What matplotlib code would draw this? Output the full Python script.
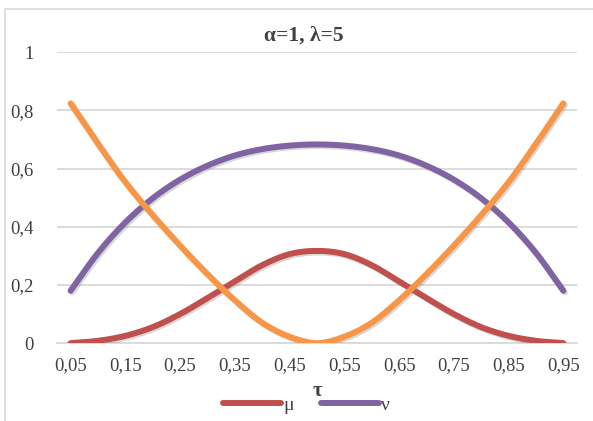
import matplotlib
matplotlib.use("Agg")
import matplotlib.pyplot as plt
import matplotlib.patheffects as pe
from matplotlib.lines import Line2D
import numpy as np

# tau categories
tau_labels = ["0,05", "0,1", "0,15", "0,2", "0,25", "0,3", "0,35", "0,4", "0,45", "0,5",
              "0,55", "0,6", "0,65", "0,7", "0,75", "0,8", "0,85", "0,9", "0,95"]

mu = [0.0, 0.008, 0.025, 0.055, 0.10, 0.155, 0.212, 0.268, 0.306, 0.317,
      0.306, 0.268, 0.212, 0.155, 0.10, 0.055, 0.025, 0.008, 0.0]
nu = [0.18, 0.31, 0.415, 0.498, 0.562, 0.61, 0.645, 0.667, 0.679, 0.683,
      0.679, 0.667, 0.645, 0.61, 0.562, 0.498, 0.415, 0.31, 0.18]
pi = [0.824, 0.685, 0.553, 0.44, 0.335, 0.237, 0.147, 0.07, 0.022, 0.0,
      0.022, 0.07, 0.147, 0.237, 0.335, 0.44, 0.553, 0.685, 0.824]

y_ticks = [0, 0.2, 0.4, 0.6, 0.8, 1.0]
y_tick_labels = ["0", "0,2", "0,4", "0,6", "0,8", "1"]

red = "#C0504D"
purple = "#8064A2"
orange = "#F79646"
grid_col = "#D9D9D9"
text_col = "#404040"


def smooth(xs, ys, n=12):
    # Catmull-Rom style smoothing, like Excel's "smoothed line"
    xs = np.asarray(xs, float)
    ys = np.asarray(ys, float)
    px = np.concatenate([[2 * xs[0] - xs[1]], xs, [2 * xs[-1] - xs[-2]]])
    py = np.concatenate([[2 * ys[0] - ys[1]], ys, [2 * ys[-1] - ys[-2]]])
    t = np.linspace(0, 1, n, endpoint=False)
    out_x, out_y = [], []
    for i in range(1, len(px) - 2):
        for p, o in ((px, out_x), (py, out_y)):
            p0, p1, p2, p3 = p[i - 1], p[i], p[i + 1], p[i + 2]
            o.extend(0.5 * (2 * p1 + (-p0 + p2) * t + (2 * p0 - 5 * p1 + 4 * p2 - p3) * t ** 2
                            + (-p0 + 3 * p1 - 3 * p2 + p3) * t ** 3))
    out_x.append(xs[-1])
    out_y.append(ys[-1])
    return out_x, out_y


plt.rcParams["font.family"] = ["Liberation Serif", "DejaVu Serif"]

fig = plt.figure(figsize=(5.93, 4.21), dpi=100)
ax = fig.add_axes([0.096, 0.185, 0.877, 0.691])

x = list(range(len(tau_labels)))
shadow = [pe.SimpleLineShadow(offset=(1.2, -1.2), shadow_color="gray", alpha=0.3), pe.Normal()]
for series, col, z in ((mu, red, 3), (nu, purple, 3), (pi, orange, 4)):
    sx, sy = smooth(x, series)
    ax.plot(sx, sy, color=col, lw=4.3, solid_capstyle="round", solid_joinstyle="round",
            path_effects=shadow, zorder=z)

ax.set_xlim(-0.5, len(tau_labels) - 0.5)
ax.set_ylim(0, 1)
ax.set_yticks(y_ticks)
ax.set_yticklabels(y_tick_labels)
ax.set_xticks(x[::2])
ax.set_xticklabels(tau_labels[::2])
ax.tick_params(length=0, labelsize=13.5, colors=text_col, pad=10)
ax.tick_params(axis="y", pad=17)
ax.yaxis.grid(True, color=grid_col, lw=1.3)
ax.set_axisbelow(True)
for s in ["top", "right", "left"]:
    ax.spines[s].set_visible(False)
ax.spines["bottom"].set_color(grid_col)
ax.spines["bottom"].set_linewidth(1.3)

ax.set_xlabel("τ", fontsize=15, fontweight="bold", color=text_col, labelpad=5)
fig.text(0.513, 0.916, "α=1, λ=5", ha="center", va="center", fontsize=15.5,
         fontweight="bold", color=text_col)

handles = [Line2D([], [], color=red, lw=4.3, solid_capstyle="round"),
           Line2D([], [], color=purple, lw=4.3, solid_capstyle="round")]
fig.legend(handles, ["μ", "ν"], loc="center", bbox_to_anchor=(0.517, 0.037), ncol=2,
           frameon=False, fontsize=14, handlelength=3.0, handletextpad=0.1,
           columnspacing=1.4, labelcolor=text_col)

# chart area border
fig.add_artist(Line2D([5 / 593, 5 / 593, 1.0], [0.0, 1 - 9 / 421, 1 - 9 / 421],
                      transform=fig.transFigure, color=grid_col, lw=1.2))

fig.savefig("out.png", dpi=100)
